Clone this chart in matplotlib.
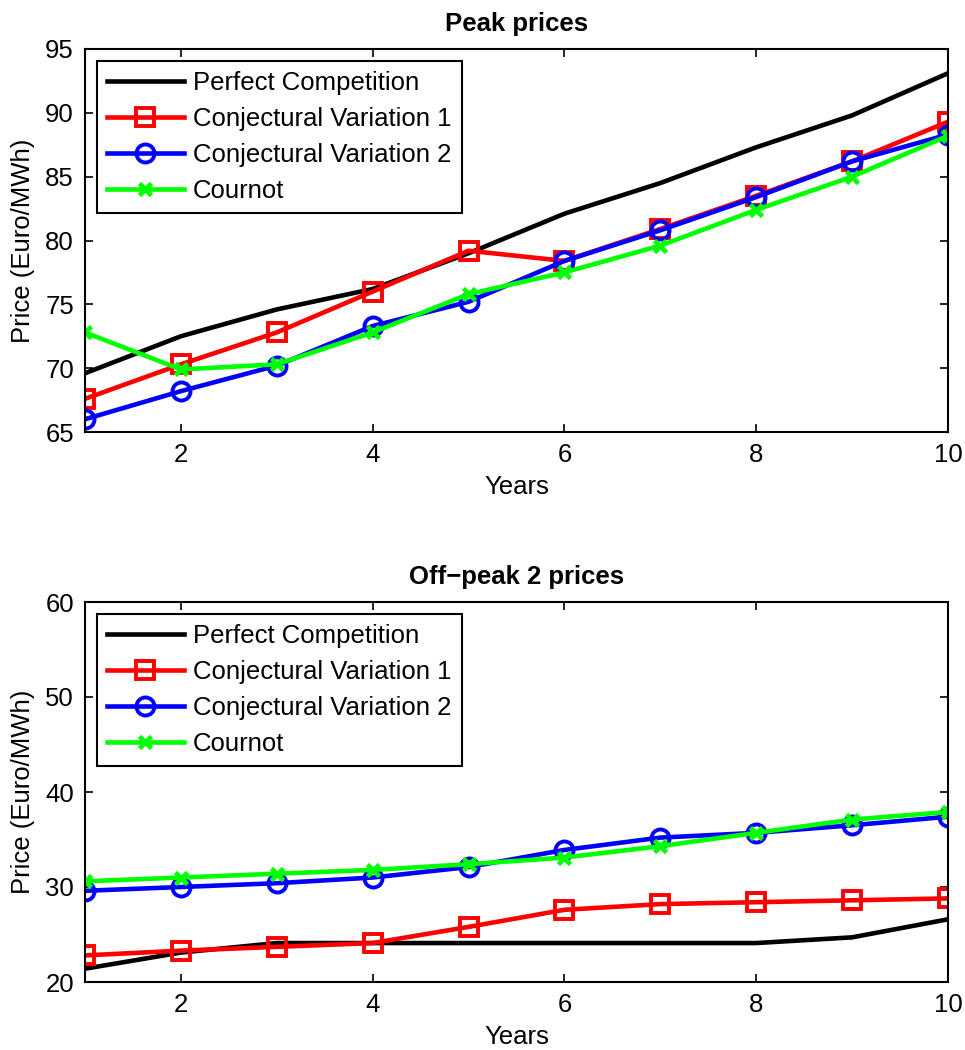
import matplotlib
matplotlib.use("Agg")
import matplotlib.pyplot as plt

plt.rcParams['font.family'] = ['Liberation Sans', 'DejaVu Sans']

years = [1, 2, 3, 4, 5, 6, 7, 8, 9, 10]
labels = ["Perfect Competition", "Conjectural Variation 1", "Conjectural Variation 2", "Cournot"]

peak_pc = [69.6, 72.5, 74.6, 76.2, 79.0, 82.1, 84.5, 87.3, 89.8, 93.1]
peak_cv1 = [67.6, 70.3, 72.8, 76.0, 79.2, 78.4, 80.9, 83.5, 86.2, 89.3]
peak_cv2 = [66.0, 68.2, 70.2, 73.3, 75.2, 78.4, 80.8, 83.4, 86.2, 88.3]
peak_cournot = [72.8, 69.9, 70.3, 72.8, 75.8, 77.5, 79.6, 82.4, 85.0, 88.2]

off_pc = [21.4, 23.1, 24.1, 24.1, 24.1, 24.1, 24.1, 24.1, 24.7, 26.6]
off_cv1 = [22.8, 23.3, 23.7, 24.1, 25.8, 27.6, 28.2, 28.4, 28.6, 28.8]
off_cv2 = [29.6, 30.0, 30.4, 31.0, 32.1, 33.9, 35.2, 35.7, 36.5, 37.4]
off_cournot = [30.6, 31.0, 31.4, 31.8, 32.4, 33.1, 34.3, 35.7, 37.1, 37.9]

fig = plt.figure(figsize=(9.65, 10.5), dpi=100)
ax1 = fig.add_axes([85/965, 1-432/1050, (948-85)/965, (432-49)/1050])
ax2 = fig.add_axes([85/965, 1-982/1050, (948-85)/965, (982-602)/1050])

FS = 18.5
lw = 3.3

def draw(ax, pc, cv1, cv2, cr, title, ylim, yticks):
    ax.plot(years, pc, color='black', lw=lw, label=labels[0])
    ax.plot(years, cv1, color='red', lw=lw, marker='s', ms=13, mfc='none', mew=2.8, label=labels[1])
    ax.plot(years, cv2, color='blue', lw=lw, marker='o', ms=13, mfc='none', mew=2.8, label=labels[2])
    ax.plot(years, cr, color='#00ff00', lw=lw, marker='x', ms=9, mew=3.4, label=labels[3])
    ax.set_xlim(1, 10)
    ax.set_ylim(*ylim)
    ax.set_xticks([2, 4, 6, 8, 10])
    ax.set_yticks(yticks)
    ax.tick_params(direction='in', top=True, right=True, length=6, width=1.2, labelsize=FS, pad=8)
    for s in ax.spines.values():
        s.set_linewidth(1.5)
    ax.set_xlabel("Years", fontsize=FS, labelpad=6)
    ax.set_ylabel("Price (Euro/MWh)", fontsize=FS, labelpad=7)
    ax.set_title(title, fontsize=FS, fontweight='bold', pad=13)
    leg = ax.legend(loc='upper left', fontsize=FS, frameon=True, fancybox=False,
                    edgecolor='black', framealpha=1, handlelength=3.0, handletextpad=0.35,
                    labelspacing=0.47, borderpad=0.4, borderaxespad=0.45)
    leg.get_frame().set_linewidth(1.5)

draw(ax1, peak_pc, peak_cv1, peak_cv2, peak_cournot, "Peak prices", (65, 95), [65, 70, 75, 80, 85, 90, 95])
draw(ax2, off_pc, off_cv1, off_cv2, off_cournot, "Off\u2212peak 2 prices", (20, 60), [20, 30, 40, 50, 60])

fig.savefig("out.png", dpi=100)
